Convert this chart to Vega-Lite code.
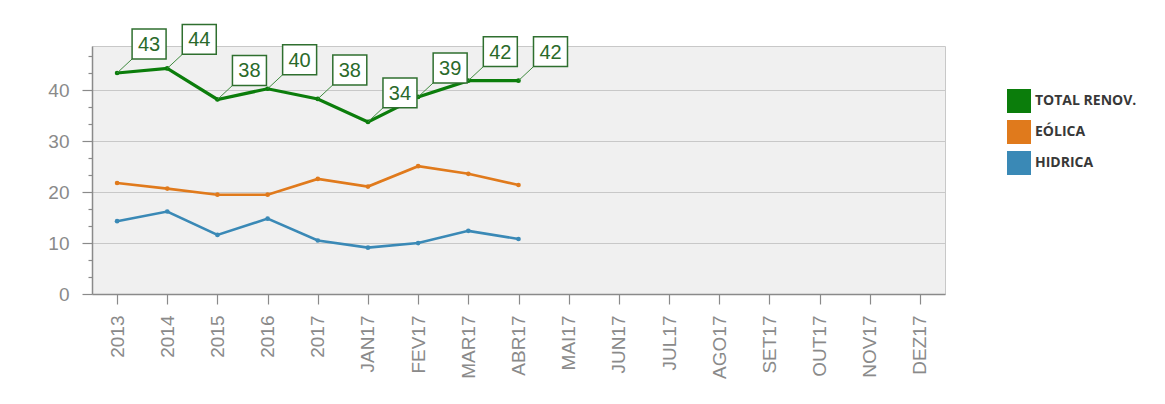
{
  "$schema": "https://vega.github.io/schema/vega-lite/v6.json",
  "width": 853,
  "height": 248,
  "autosize": {"type": "none"},
  "padding": {"left": 92, "top": 46, "right": 220, "bottom": 110},
  "background": "white",
  "config": {
    "view": {"fill": "#f0f0f0", "stroke": "#c8c8c8", "strokeWidth": 1},
    "axis": {
      "labelFont": "Liberation Sans",
      "labelFontSize": 19,
      "labelColor": "#8a8a8a",
      "domainColor": "#8a8a8a",
      "domainWidth": 1.5,
      "tickColor": "#8a8a8a",
      "tickWidth": 1.2,
      "title": null
    },
    "legend": {
      "title": null,
      "orient": "none",
      "legendX": 915,
      "legendY": 43,
      "padding": 0,
      "symbolType": "square",
      "symbolSize": 576,
      "symbolStrokeWidth": 0,
      "symbolOpacity": 1,
      "labelFont": "Open Sans",
      "labelFontWeight": "bold",
      "labelFontSize": 14,
      "labelColor": "#383838",
      "labelOffset": 4,
      "rowPadding": 7,
      "labelLimit": 300
    }
  },
  "data": {
    "values": [
      {"mes": "2013", "serie": "TOTAL RENOV.", "valor": 43.4},
      {"mes": "2014", "serie": "TOTAL RENOV.", "valor": 44.3},
      {"mes": "2015", "serie": "TOTAL RENOV.", "valor": 38.2},
      {"mes": "2016", "serie": "TOTAL RENOV.", "valor": 40.3},
      {"mes": "2017", "serie": "TOTAL RENOV.", "valor": 38.3},
      {"mes": "JAN17", "serie": "TOTAL RENOV.", "valor": 33.8},
      {"mes": "FEV17", "serie": "TOTAL RENOV.", "valor": 38.7},
      {"mes": "MAR17", "serie": "TOTAL RENOV.", "valor": 41.9},
      {"mes": "ABR17", "serie": "TOTAL RENOV.", "valor": 41.9},
      {"mes": "2013", "serie": "EÓLICA", "valor": 21.8},
      {"mes": "2014", "serie": "EÓLICA", "valor": 20.7},
      {"mes": "2015", "serie": "EÓLICA", "valor": 19.5},
      {"mes": "2016", "serie": "EÓLICA", "valor": 19.5},
      {"mes": "2017", "serie": "EÓLICA", "valor": 22.6},
      {"mes": "JAN17", "serie": "EÓLICA", "valor": 21.1},
      {"mes": "FEV17", "serie": "EÓLICA", "valor": 25.1},
      {"mes": "MAR17", "serie": "EÓLICA", "valor": 23.6},
      {"mes": "ABR17", "serie": "EÓLICA", "valor": 21.4},
      {"mes": "2013", "serie": "HIDRICA", "valor": 14.3},
      {"mes": "2014", "serie": "HIDRICA", "valor": 16.2},
      {"mes": "2015", "serie": "HIDRICA", "valor": 11.6},
      {"mes": "2016", "serie": "HIDRICA", "valor": 14.8},
      {"mes": "2017", "serie": "HIDRICA", "valor": 10.5},
      {"mes": "JAN17", "serie": "HIDRICA", "valor": 9.1},
      {"mes": "FEV17", "serie": "HIDRICA", "valor": 10.0},
      {"mes": "MAR17", "serie": "HIDRICA", "valor": 12.4},
      {"mes": "ABR17", "serie": "HIDRICA", "valor": 10.8}
    ]
  },
  "encoding": {
    "x": {
      "field": "mes",
      "type": "ordinal",
      "sort": null,
      "scale": {
        "type": "point",
        "padding": 0.5,
        "domain": ["2013", "2014", "2015", "2016", "2017", "JAN17", "FEV17", "MAR17", "ABR17", "MAI17", "JUN17", "JUL17", "AGO17", "SET17", "OUT17", "NOV17", "DEZ17"]
      },
      "axis": {"labelAngle": -90, "tickSize": 10, "labelPadding": 11, "grid": false}
    },
    "y": {
      "field": "valor",
      "type": "quantitative",
      "scale": {"domain": [0, 48.7], "nice": false},
      "axis": {
        "values": [0, 3.333, 6.667, 10, 13.333, 16.667, 20, 23.333, 26.667, 30, 33.333, 36.667, 40, 43.333, 46.667],
        "labelExpr": "datum.value % 10 === 0 ? datum.label : ''",
        "tickSize": {"condition": {"test": "datum.value % 10 === 0", "value": 10}, "value": 4},
        "grid": true,
        "gridColor": "#c8c8c8",
        "gridWidth": 1,
        "gridOpacity": {"condition": {"test": "datum.value % 10 === 0 && datum.value > 0", "value": 1}, "value": 0},
        "labelPadding": 13
      }
    },
    "color": {
      "field": "serie",
      "type": "nominal",
      "scale": {"domain": ["TOTAL RENOV.", "EÓLICA", "HIDRICA"], "range": ["#0b7d0b", "#e07a1c", "#3a89b6"]}
    }
  },
  "layer": [
    {
      "mark": {"type": "line"},
      "encoding": {
        "strokeWidth": {"condition": {"test": "datum.serie === 'TOTAL RENOV.'", "value": 3.2}, "value": 2.6}
      }
    },
    {
      "mark": {"type": "point", "filled": true, "opacity": 1, "size": 22}
    },
    {
      "transform": [{"filter": "datum.serie === 'TOTAL RENOV.'"}],
      "mark": {"type": "rule", "color": "#3f8a3f", "strokeWidth": 1, "x2Offset": 15, "y2Offset": -14},
      "encoding": {
        "color": {"value": "#3f8a3f"},
        "x2": {"field": "mes"},
        "y2": {"field": "valor"}
      }
    },
    {
      "transform": [{"filter": "datum.serie === 'TOTAL RENOV.'"}],
      "mark": {
        "type": "point",
        "shape": "M-1,-0.88H1V0.88H-1Z",
        "size": 1156,
        "filled": true,
        "fill": "white",
        "stroke": "#2f6f2f",
        "strokeWidth": 1.5,
        "opacity": 1,
        "xOffset": 32,
        "yOffset": -29
      },
      "encoding": {"color": {"value": "white"}}
    },
    {
      "transform": [{"filter": "datum.serie === 'TOTAL RENOV.'"}],
      "mark": {
        "type": "text",
        "font": "Liberation Sans",
        "fontSize": 20,
        "align": "center",
        "baseline": "middle",
        "xOffset": 32,
        "yOffset": -28
      },
      "encoding": {
        "color": {"value": "#2a6a2a"},
        "text": {"field": "valor", "type": "quantitative", "format": ".0f"}
      }
    }
  ]
}
